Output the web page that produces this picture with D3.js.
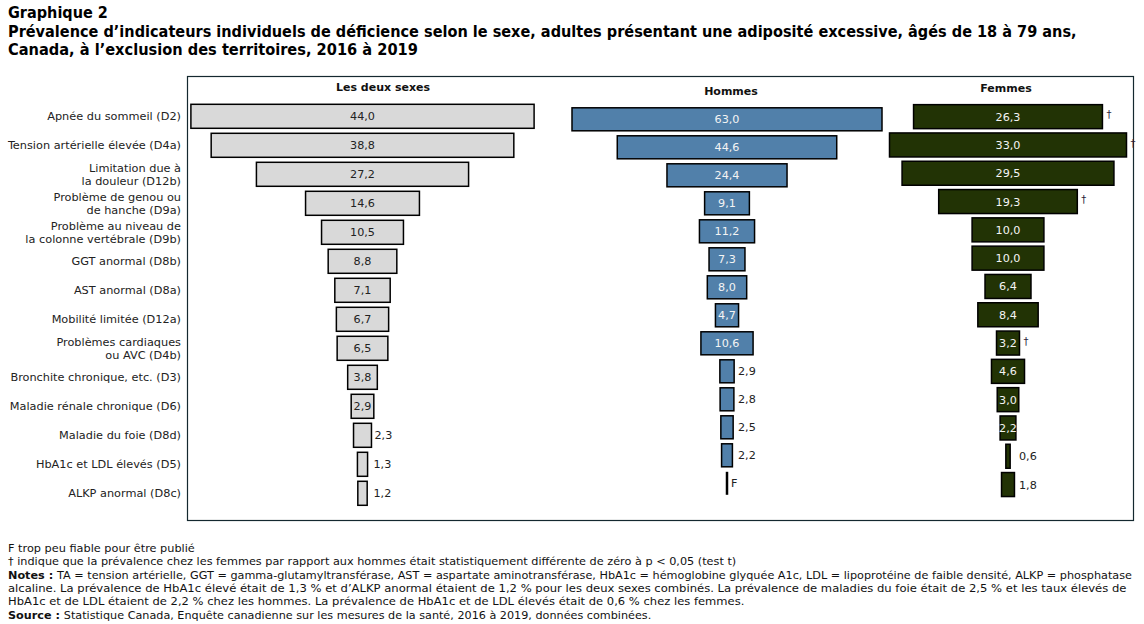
<!DOCTYPE html>
<html lang="fr">
<head>
  <meta charset="UTF-8">
  <title>Graphique 2</title>
  <style>
    body {
      margin: 0;
      background: #fff;
      font-family: Verdana, "DejaVu Sans", sans-serif;
    }
    svg { display: block; }
    .cat { font-size: 11.3px; fill: #222; }
    .val { font-size: 11.2px; }
    .head { font-size: 11px; font-weight: bold; fill: #111; }
    .title { font-size: 15px; font-weight: bold; fill: #000; }
    .note { font-size: 11px; fill: #111; }
  </style>
</head>
<body>
  <div id="chart"></div>

  <script src="https://d3js.org/d3.v7.min.js"></script>
  <script>
    // Categories (| = line break in the label)
    const categories = [
      "Apnée du sommeil (D2)",
      "Tension artérielle élevée (D4a)",
      "Limitation due à|la douleur (D12b)",
      "Problème de genou ou|de hanche (D9a)",
      "Problème au niveau de|la colonne vertébrale (D9b)",
      "GGT anormal (D8b)",
      "AST anormal (D8a)",
      "Mobilité limitée (D12a)",
      "Problèmes cardiaques|ou AVC (D4b)",
      "Bronchite chronique, etc. (D3)",
      "Maladie rénale chronique (D6)",
      "Maladie du foie (D8d)",
      "HbA1c et LDL élevés (D5)",
      "ALKP anormal (D8c)"
    ];

    // Prevalence (%) - null = F (too unreliable to be published)
    const deuxSexes = [44.0, 38.8, 27.2, 14.6, 10.5, 8.8, 7.1, 6.7, 6.5, 3.8, 2.9, 2.3, 1.3, 1.2];
    const hommes    = [63.0, 44.6, 24.4, 9.1, 11.2, 7.3, 8.0, 4.7, 10.6, 2.9, 2.8, 2.5, 2.2, null];
    const femmes    = [26.3, 33.0, 29.5, 19.3, 10.0, 10.0, 6.4, 8.4, 3.2, 4.6, 3.0, 2.2, 0.6, 1.8];
    // † women vs men significantly different
    const femmesDiff = [true, true, false, true, false, false, false, false, true, false, false, false, false, false];

    const seriesNames = ["Les deux sexes", "Hommes", "Femmes"];

    const titleLines = [
      "Graphique 2",
      "Prévalence d’indicateurs individuels de déficience selon le sexe, adultes présentant une adiposité excessive, âgés de 18 à 79 ans,",
      "Canada, à l’exclusion des territoires, 2016 à 2019"
    ];

    const fmt = v => d3.format(".1f")(v).replace(".", ",");

    const W = 1144, H = 624;
    const svg = d3.select("#chart").append("svg")
      .attr("width", W)
      .attr("height", H);

    // Title
    const titleY = [18, 37, 55];
    const titleEnd = [108, 1077, 418];
    titleLines.forEach((t, i) => {
      const el = svg.append("text")
        .attr("class", "title")
        .attr("x", 0).attr("y", 0)
        .text(t);
      const w = el.node().getComputedTextLength();
      const sx = (titleEnd[i] - 8) / w;
      el.attr("transform", `translate(8,${titleY[i]}) scale(${sx},1)`);
    });

    // Frame
    svg.append("rect")
      .attr("x", 187.5).attr("y", 76.5)
      .attr("width", 946).attr("height", 444)
      .attr("fill", "none")
      .attr("stroke", "#14282f")
      .attr("stroke-width", 1.2);

    // Panels: each has its own scale and row band
    const panels = [
      { name: seriesNames[0], values: deuxSexes, center: 362.5, maxVal: 44, maxPx: 343.2,
        y0: 101.8, y1: 507.8, bw: 24, fill: "#d9d9d9", inText: "#222", insideMin: 2.5,
        headX: 383, headY: 91 },
      { name: seriesNames[1], values: hommes, center: 727, maxVal: 63, maxPx: 310,
        y0: 105.3, y1: 497.3, bw: 23, fill: "#5180aa", inText: "#f4f4f4", insideMin: 3.5,
        headX: 731, headY: 95 },
      { name: seriesNames[2], values: femmes, center: 1008, maxVal: 33, maxPx: 237,
        y0: 102.5, y1: 498.7, bw: 24, fill: "#223305", inText: "#f4f4f4", insideMin: 2.0,
        headX: 1006, headY: 92, dagger: femmesDiff }
    ];

    let catBand = null;

    panels.forEach(p => {
      const x = d3.scaleLinear().domain([0, p.maxVal]).range([0, p.maxPx]);
      const step = (p.y1 - p.y0) / categories.length;
      const pad = (step - p.bw) / step;
      const y = d3.scaleBand()
        .domain(d3.range(categories.length))
        .range([p.y0, p.y1])
        .paddingInner(pad)
        .paddingOuter(pad / 2);
      if (!catBand) catBand = y;

      const g = svg.append("g");

      g.append("text")
        .attr("class", "head")
        .attr("x", p.headX).attr("y", p.headY)
        .attr("text-anchor", "middle")
        .text(p.name);

      const rows = p.values.map((v, i) => ({ v, i }));

      g.selectAll("rect.bar")
        .data(rows.filter(d => d.v !== null))
        .join("rect")
        .attr("class", "bar")
        .attr("x", d => p.center - x(d.v) / 2)
        .attr("y", d => y(d.i))
        .attr("width", d => x(d.v))
        .attr("height", y.bandwidth())
        .attr("fill", p.fill)
        .attr("stroke", "#000")
        .attr("stroke-width", 1.5);

      // F: zero-width bar drawn as a line
      rows.filter(d => d.v === null).forEach(d => {
        g.append("line")
          .attr("x1", p.center).attr("x2", p.center)
          .attr("y1", y(d.i)).attr("y2", y(d.i) + y.bandwidth())
          .attr("stroke", "#000")
          .attr("stroke-width", 2.5);
        g.append("text")
          .attr("class", "val")
          .attr("x", p.center + 4)
          .attr("y", y(d.i) + y.bandwidth() / 2)
          .attr("dy", "0.36em")
          .attr("fill", "#222")
          .text("F");
      });

      g.selectAll("text.lab")
        .data(rows.filter(d => d.v !== null))
        .join("text")
        .attr("class", "val lab")
        .attr("x", d => d.v >= p.insideMin ? p.center : p.center + Math.max(x(d.v) / 2, 8) + 3)
        .attr("y", d => y(d.i) + y.bandwidth() / 2)
        .attr("dy", "0.36em")
        .attr("text-anchor", d => d.v >= p.insideMin ? "middle" : "start")
        .attr("fill", d => d.v >= p.insideMin ? p.inText : "#222")
        .text(d => fmt(d.v));

      if (p.dagger) {
        g.selectAll("text.dag")
          .data(rows.filter(d => p.dagger[d.i]))
          .join("text")
          .attr("class", "val dag")
          .attr("x", d => p.center + x(d.v) / 2 + 4)
          .attr("y", d => y(d.i) + y.bandwidth() / 2 - 2)
          .attr("dy", "0.36em")
          .attr("fill", "#2a1a3a")
          .style("font-size", "10px")
          .text("†");
      }
    });

    // Category labels (aligned on the first panel's rows)
    categories.forEach((c, i) => {
      const parts = c.split("|");
      const cy = catBand(i) + catBand.bandwidth() / 2;
      const t = svg.append("text")
        .attr("class", "cat")
        .attr("text-anchor", "end")
        .attr("x", 181)
        .attr("y", cy - (parts.length - 1) * 6.5)
        .attr("dy", "0.36em");
      parts.forEach((s, k) => {
        t.append("tspan")
          .attr("x", 181)
          .attr("dy", k === 0 ? "0.36em" : "13")
          .text(s);
      });
    });

    // Footnotes
    const notes = [
      { b: "", t: "F trop peu fiable pour être publié", end: 195 },
      { b: "", t: "† indique que la prévalence chez les femmes par rapport aux hommes était statistiquement différente de zéro à p < 0,05 (test t)", end: 737 },
      { b: "Notes : ", t: "TA = tension artérielle, GGT = gamma-glutamyltransférase, AST = aspartate aminotransférase, HbA1c = hémoglobine glyquée A1c, LDL = lipoprotéine de faible densité, ALKP = phosphatase", end: 1133 },
      { b: "", t: "alcaline. La prévalence de HbA1c élevé était de 1,3 % et d’ALKP anormal étaient de 1,2 % pour les deux sexes combinés. La prévalence de maladies du foie était de 2,5 % et les taux élevés de", end: 1127 },
      { b: "", t: "HbA1c et de LDL étaient de 2,2 % chez les hommes. La prévalence de HbA1c et de LDL élevés était de 0,6 % chez les femmes.", end: 745 },
      { b: "Source : ", t: "Statistique Canada, Enquête canadienne sur les mesures de la santé, 2016 à 2019, données combinées.", end: 652 }
    ];
    notes.forEach((n, i) => {
      const el = svg.append("text")
        .attr("class", "note")
        .attr("x", 0).attr("y", 0);
      if (n.b) el.append("tspan").style("font-weight", "bold").text(n.b);
      el.append("tspan").text(n.t);
      const w = el.node().getComputedTextLength();
      const sx = (n.end - 8) / w;
      el.attr("transform", `translate(8,${552 + i * 13.3}) scale(${sx},1)`);
    });
  </script>
</body>
</html>
